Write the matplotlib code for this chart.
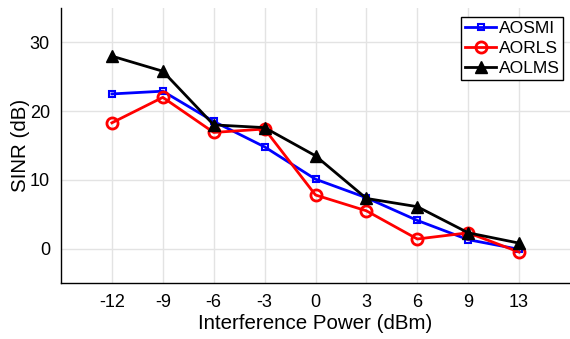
import matplotlib.pyplot as plt
import numpy as np

plt.rcParams['font.family'] = ['Liberation Sans', 'DejaVu Sans']

power = ['-12', '-9', '-6', '-3', '0', '3', '6', '9', '13']
aosmi = [22.5, 22.9, 18.5, 14.8, 10.1, 7.4, 4.1, 1.3, -0.1]
aorls = [18.3, 22.0, 16.9, 17.4, 7.8, 5.5, 1.4, 2.3, -0.5]
aolms = [28.0, 25.8, 18.0, 17.6, 13.5, 7.3, 6.1, 2.3, 0.8]

x = np.arange(len(power))

fig = plt.figure(figsize=(5.7, 3.39), dpi=100)
ax = fig.add_axes([61 / 570, 1 - 283 / 339, 1 - 61 / 570, (283 - 8) / 339])

ax.plot(x, aosmi, '-s', color='#0000ff', lw=2, ms=5, mfc='none', mew=1.5, label='AOSMI')
ax.plot(x, aorls, '-o', color='#ff0000', lw=2, ms=8, mfc='none', mew=2, label='AORLS')
ax.plot(x, aolms, '-^', color='black', lw=2, ms=9, label='AOLMS')

ax.set_xlim(-1, 9)
ax.set_ylim(-5, 35)
ax.set_xticks(x)
ax.set_xticklabels(power)
ax.set_yticks([0, 10, 20, 30])
ax.grid(True, color='#e3e3e3', lw=1)
ax.set_axisbelow(True)
ax.tick_params(length=0, labelsize=13, pad=8)
for s in ['top', 'right']:
    ax.spines[s].set_visible(False)
ax.spines['left'].set_linewidth(1)
ax.spines['bottom'].set_linewidth(1)

ax.set_xlabel('Interference Power (dBm)', fontsize=14.8, labelpad=2)
ax.set_ylabel('SINR (dB)', fontsize=14.8, labelpad=0)

leg = ax.legend(loc='upper right', bbox_to_anchor=(0.987, 0.966), fontsize=12.6,
                fancybox=False, edgecolor='black', framealpha=1,
                handlelength=1.8, handletextpad=0.15, borderpad=0.2,
                labelspacing=0.27, borderaxespad=0)
leg.get_frame().set_linewidth(1)

fig.savefig('out.png', dpi=100)
